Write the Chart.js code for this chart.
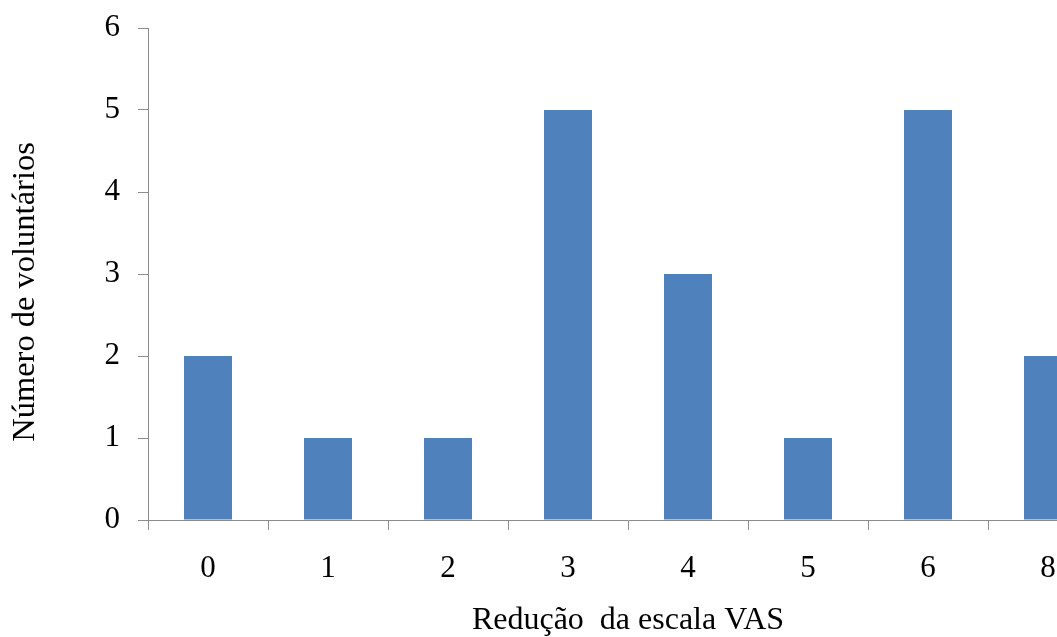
<!DOCTYPE html>
<html lang="pt">
<head>
  <meta charset="UTF-8">
  <title>Redução da escala VAS</title>
  <script src="https://cdn.jsdelivr.net/npm/chart.js"></script>
  <style>
    html, body { margin: 0; padding: 0; background: #fff; overflow: hidden; }
    #grafico { position: absolute; left: 0; top: 0; }
  </style>
</head>
<body>

  <canvas id="grafico" width="1108" height="637"></canvas>

  <script>
    // Dados do gráfico
    const categorias = ['0', '1', '2', '3', '4', '5', '6', '8'];
    const voluntarios = [2, 1, 1, 5, 3, 1, 5, 2];
    const yMin = 0;
    const yMax = 6;
    const tituloX = 'Redução  da escala VAS';
    const tituloY = 'Número de voluntários';

    const fonte = "'Liberation Serif', 'Times New Roman', serif";
    const corEixo = '#8c8c8c';

    // Título do eixo Y desenhado à parte (centrado como no original)
    const tituloEixoY = {
      id: 'tituloEixoY',
      afterDraw(chart) {
        const ctx = chart.ctx;
        ctx.save();
        ctx.translate(25, 292);
        ctx.rotate(-Math.PI / 2);
        ctx.font = '32.5px ' + fonte;
        ctx.fillStyle = '#000';
        ctx.textAlign = 'center';
        ctx.textBaseline = 'middle';
        ctx.fillText(tituloY, 0, 0);
        ctx.restore();
      }
    };

    const ctx = document.getElementById('grafico').getContext('2d');
    const grafico = new Chart(ctx, {
      type: 'bar',
      data: {
        labels: categorias,
        datasets: [{
          data: voluntarios,
          backgroundColor: '#4f81bd',
          borderWidth: 0,
          barPercentage: 0.4,
          categoryPercentage: 1
        }]
      },
      options: {
        responsive: false,
        animation: false,
        layout: { padding: { top: 28, right: 0, bottom: 0, left: 0 } },
        plugins: {
          legend: { display: false },
          tooltip: { enabled: false }
        },
        scales: {
          x: {
            afterFit: s => { s.height = 117; },
            grid: { drawOnChartArea: false, drawTicks: true, tickLength: 10, color: corEixo, offset: true },
            border: { display: true, color: corEixo, width: 1 },
            ticks: { color: '#000', padding: 20, font: { family: fonte, size: 31 } },
            title: {
              display: true,
              text: tituloX,
              color: '#000',
              padding: { top: 0, bottom: 0 },
              font: { family: fonte, size: 32, lineHeight: 1 }
            }
          },
          y: {
            min: yMin,
            max: yMax,
            afterFit: s => { s.width = 148; s.paddingTop = 0; s.paddingBottom = 0; },
            grid: { drawOnChartArea: false, drawTicks: true, tickLength: 10, color: corEixo },
            border: { display: true, color: corEixo, width: 1 },
            ticks: { stepSize: 1, color: '#000', padding: 18, font: { family: fonte, size: 31 } }
          }
        }
      },
      plugins: [tituloEixoY]
    });
  </script>

</body>
</html>
